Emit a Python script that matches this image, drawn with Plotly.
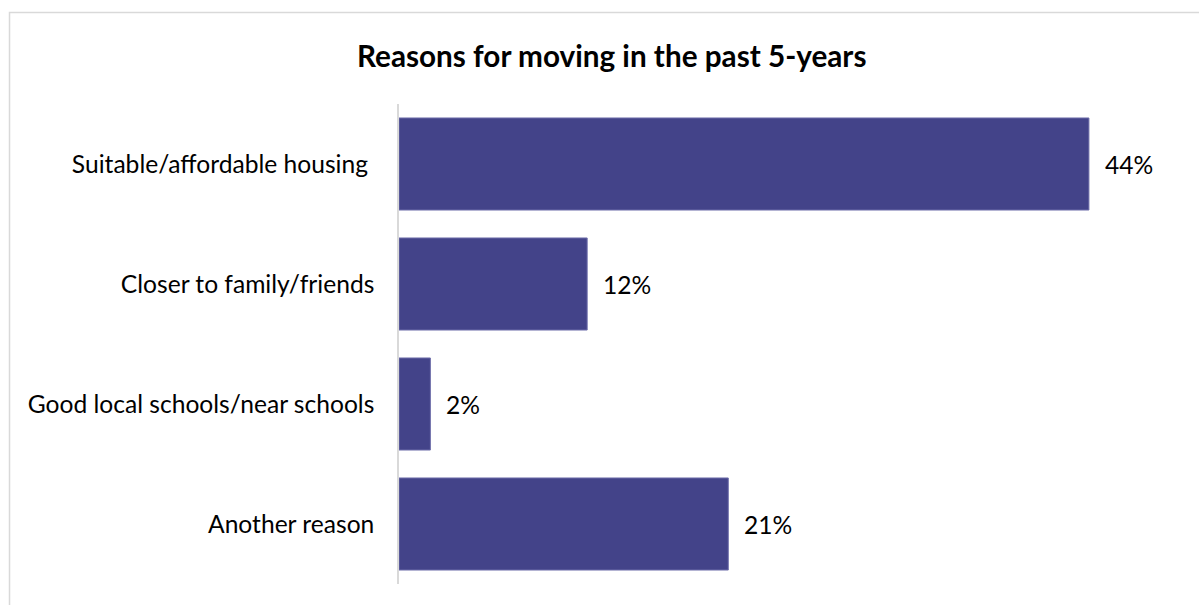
import plotly.graph_objects as go

# Survey results: share of respondents by main reason for moving
reasons = [
    "Suitable/affordable housing ",
    "Closer to family/friends",
    "Good local schools/near schools",
    "Another reason",
]
shares = [44, 12, 2, 21]

title_text = "Reasons for moving in the past 5-years"

BAR_COLOR = "#434389"
FONT = "Lato, Calibri, Carlito, sans-serif"
LABEL_SIZE = 24.6

fig = go.Figure(
    go.Bar(
        x=shares,
        y=reasons,
        orientation="h",
        marker=dict(color=BAR_COLOR, line=dict(color="#6E6EAA", width=1)),
        hoverinfo="skip",
    )
)

# value labels placed just right of each bar end
for r, v in zip(reasons, shares):
    fig.add_annotation(
        x=v, y=r, xref="x", yref="y",
        text=f"{v}%", showarrow=False,
        xanchor="left", yanchor="middle", xshift=14,
        font=dict(family=FONT, size=LABEL_SIZE, color="#000000"),
    )

# chart title
fig.add_annotation(
    x=0.271, y=1.102, xref="paper", yref="paper",
    text=f"<b>{title_text}</b>", showarrow=False,
    xanchor="center", yanchor="middle",
    font=dict(family=FONT, size=29.7, color="#000000"),
)

# light grey frame around the chart area
fig.add_shape(
    type="rect", xref="paper", yref="paper",
    x0=-0.4968, x1=1.1, y0=-0.2, y1=1.1906,
    line=dict(color="#D9D9D9", width=1.5),
    fillcolor="rgba(0,0,0,0)", layer="below",
)

fig.update_layout(
    width=1199, height=605,
    margin=dict(l=399, r=16, t=104, b=21, pad=0),
    paper_bgcolor="#FFFFFF",
    plot_bgcolor="#FFFFFF",
    bargap=0.233,
    showlegend=False,
    font=dict(family=FONT, size=LABEL_SIZE, color="#000000"),
)
fig.update_xaxes(
    range=[0, 50], visible=False, showgrid=False, zeroline=False,
)
fig.update_yaxes(
    autorange="reversed",
    showline=True, linecolor="#D9D9D9", linewidth=1.5,
    showgrid=False, zeroline=False,
    ticks="", ticklabelstandoff=18,
    tickfont=dict(family=FONT, size=LABEL_SIZE, color="#000000"),
)

fig.write_html("out.html")
